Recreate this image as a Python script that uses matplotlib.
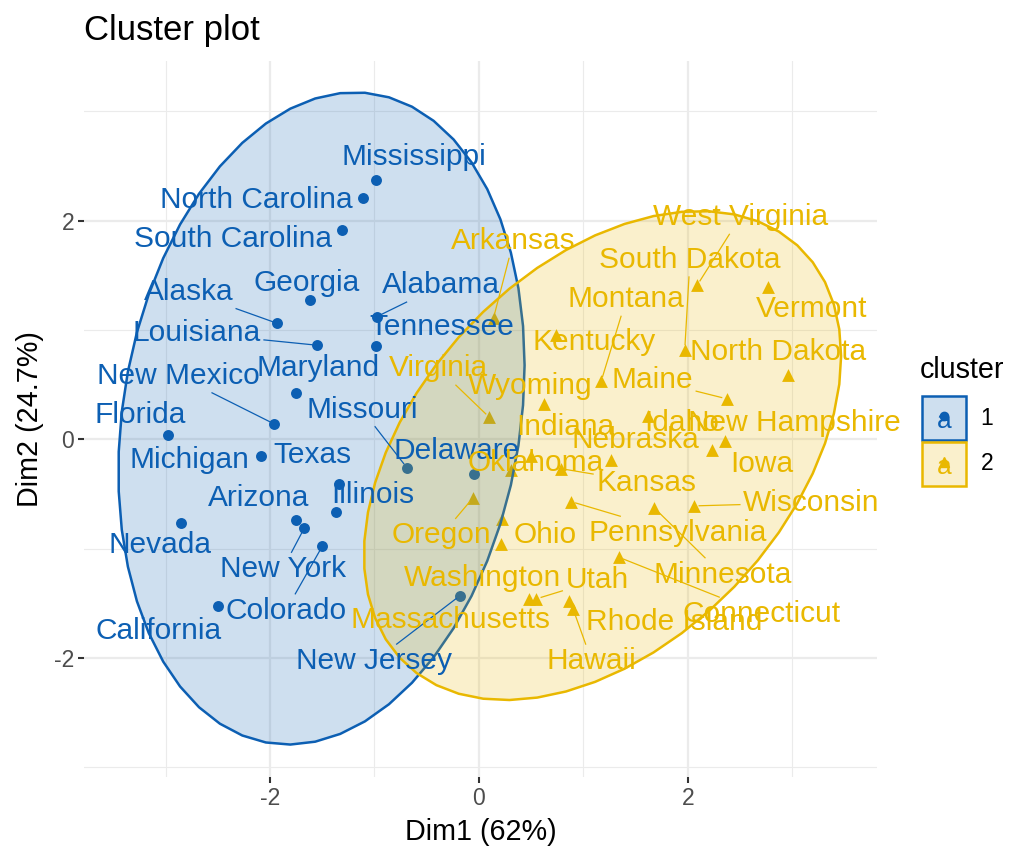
import numpy as np
import matplotlib.pyplot as plt
from matplotlib.patches import Polygon, Rectangle
from matplotlib.lines import Line2D

plt.rcParams['font.family'] = ['Liberation Sans', 'DejaVu Sans']
plt.rcParams['axes.unicode_minus'] = False

# cluster 1 (PCA coordinates)
states_c1 = ['Alabama', 'Alaska', 'Arizona', 'California', 'Colorado', 'Delaware',
             'Florida', 'Georgia', 'Illinois', 'Louisiana', 'Maryland', 'Michigan',
             'Mississippi', 'Missouri', 'Nevada', 'New Jersey', 'New Mexico',
             'New York', 'North Carolina', 'South Carolina', 'Tennessee', 'Texas']
dim1_c1 = [-0.98, -1.93, -1.75, -2.50, -1.50, -0.05, -2.98, -1.62, -1.37, -1.55, -1.75,
           -2.09, -0.99, -0.69, -2.85, -0.18, -1.96, -1.67, -1.11, -1.31, -0.99, -1.34]
dim2_c1 = [1.12, 1.06, -0.74, -1.53, -0.98, -0.32, 0.04, 1.27, -0.67, 0.86, 0.42,
           -0.15, 2.37, -0.26, -0.77, -1.43, 0.14, -0.81, 2.21, 1.91, 0.85, -0.41]

# cluster 2
states_c2 = ['Arkansas', 'Connecticut', 'Hawaii', 'Idaho', 'Indiana', 'Iowa', 'Kansas',
             'Kentucky', 'Maine', 'Massachusetts', 'Minnesota', 'Montana', 'Nebraska',
             'New Hampshire', 'North Dakota', 'Ohio', 'Oklahoma', 'Oregon',
             'Pennsylvania', 'Rhode Island', 'South Dakota', 'Utah', 'Vermont',
             'Virginia', 'Washington', 'West Virginia', 'Wisconsin', 'Wyoming']
dim1_c2 = [0.14, 1.34, 0.90, 1.62, 0.50, 2.23, 0.79, 0.74, 2.37, 0.48, 1.68, 1.17, 1.26,
           2.36, 2.96, 0.22, 0.31, -0.06, 0.88, 0.86, 1.97, 0.55, 2.77, 0.10, 0.21,
           2.09, 2.06, 0.62]
dim2_c2 = [1.11, -1.08, -1.55, 0.21, -0.15, -0.10, -0.27, 0.95, 0.37, -1.46, -0.63, 0.53,
           -0.19, -0.02, 0.59, -0.73, -0.28, -0.54, -0.57, -1.48, 0.82, -1.46, 1.39,
           0.20, -0.96, 1.41, -0.61, 0.32]

# where the repelled labels ended up (label centres)
label_pos = {
    'Mississippi': (-0.62, 2.58), 'North Carolina': (-2.13, 2.19),
    'South Carolina': (-2.35, 1.83), 'Georgia': (-1.65, 1.43), 'Alabama': (-0.36, 1.41),
    'Alaska': (-2.78, 1.35), 'Louisiana': (-2.70, 0.97), 'Tennessee': (-0.36, 1.03),
    'New Mexico': (-2.88, 0.58), 'Maryland': (-1.54, 0.65), 'Missouri': (-1.12, 0.27),
    'Florida': (-3.24, 0.22), 'Delaware': (-0.21, -0.11), 'Michigan': (-2.77, -0.19),
    'Texas': (-1.59, -0.14), 'Illinois': (-1.02, -0.51), 'Arizona': (-2.11, -0.54),
    'Nevada': (-3.05, -0.97), 'New York': (-1.88, -1.19), 'Colorado': (-1.85, -1.57),
    'California': (-3.07, -1.75), 'New Jersey': (-1.00, -2.03),
    'West Virginia': (2.50, 2.03), 'Arkansas': (0.33, 1.81), 'South Dakota': (2.02, 1.64),
    'Montana': (1.41, 1.28), 'Vermont': (3.18, 1.19), 'Kentucky': (1.10, 0.89),
    'North Dakota': (2.86, 0.80), 'Virginia': (-0.39, 0.65), 'Wyoming': (0.49, 0.49),
    'Maine': (1.66, 0.54), 'Indiana': (0.83, 0.11), 'Idaho': (1.94, 0.15),
    'New Hampshire': (3.02, 0.15), 'Nebraska': (1.50, -0.01), 'Iowa': (2.71, -0.23),
    'Kansas': (1.60, -0.40), 'Oklahoma': (0.54, -0.22), 'Wisconsin': (3.18, -0.58),
    'Oregon': (-0.36, -0.88), 'Ohio': (0.63, -0.88), 'Pennsylvania': (1.90, -0.86),
    'Minnesota': (2.33, -1.24), 'Washington': (0.03, -1.27), 'Utah': (1.13, -1.29),
    'Connecticut': (2.71, -1.60), 'Massachusetts': (-0.27, -1.65),
    'Rhode Island': (1.87, -1.67), 'Hawaii': (1.08, -2.03),
}

blue = '#0C5FB3'
yellow = '#E9B800'


def norm_ellipse(x, y, radius, n=52):
    # same as ggplot2 stat_ellipse(type = "norm")
    x = np.asarray(x)
    y = np.asarray(y)
    cov = np.cov(x, y)
    chol = np.linalg.cholesky(cov).T
    t = np.linspace(0, 2 * np.pi, n)
    unit = np.column_stack([np.cos(t), np.sin(t)])
    return np.array([x.mean(), y.mean()]) + radius * unit @ chol


# sqrt(2 * qf(0.95, 2, n - 1))
r1 = np.sqrt(2 * 3.4668)
r2 = np.sqrt(2 * 3.3541)

fig = plt.figure(figsize=(10.36, 8.64), dpi=100)
ax = fig.add_axes([0.0811, 0.1007, 0.8465 - 0.0811, 0.9294 - 0.1007])

ax.scatter(dim1_c1, dim2_c1, s=62, marker='o', color=blue, zorder=2, linewidths=0)
ax.scatter(dim1_c2, dim2_c2, s=85, marker='^', color=yellow, zorder=2, linewidths=0)

ell1 = norm_ellipse(dim1_c1, dim2_c1, r1)
ell2 = norm_ellipse(dim1_c2, dim2_c2, r2)
ax.add_patch(Polygon(ell1, closed=True, facecolor=blue, alpha=0.2, edgecolor='none', zorder=3))
ax.add_patch(Polygon(ell1, closed=True, facecolor='none', edgecolor=blue, lw=1.8, zorder=3))
ax.add_patch(Polygon(ell2, closed=True, facecolor=yellow, alpha=0.2, edgecolor='none', zorder=3.1))
ax.add_patch(Polygon(ell2, closed=True, facecolor='none', edgecolor=yellow, lw=1.8, zorder=3.1))

texts = []
for names, xs, ys, col in [(states_c1, dim1_c1, dim2_c1, blue),
                           (states_c2, dim1_c2, dim2_c2, yellow)]:
    for name, px, py in zip(names, xs, ys):
        lx, ly = label_pos[name]
        t = ax.text(lx, ly, name, color=col, fontsize=21.5, ha='center', va='center', zorder=5)
        texts.append((t, px, py, col))

ax.set_xlim(-3.78, 3.81)
ax.set_ylim(-3.09, 3.46)
ax.set_xticks([-2, 0, 2])
ax.set_yticks([-2, 0, 2])
ax.set_xticks([-3, -1, 1, 3], minor=True)
ax.set_yticks([-3, -1, 1, 3], minor=True)
ax.grid(which='major', color='#EBEBEB', lw=1.6, zorder=0)
ax.grid(which='minor', color='#EBEBEB', lw=0.8, zorder=0)
ax.set_axisbelow(True)
for s in ax.spines.values():
    s.set_visible(False)
ax.tick_params(which='major', labelsize=16.5, labelcolor='#4D4D4D', color='#333333',
               length=4, width=1.5, pad=3)
ax.tick_params(which='minor', length=0)

# repel segments: along the line label centre -> point, starting at the padded label box
fig.canvas.draw()
renderer = fig.canvas.get_renderer()
inv = ax.transData.inverted()
for t, px, py, col in texts:
    bb = t.get_window_extent(renderer)
    dx, dy = ax.transData.transform((px, py))
    mx, my = (bb.x0 + bb.x1) / 2, (bb.y0 + bb.y1) / 2
    vx, vy = dx - mx, dy - my
    hw, hh = (bb.x1 - bb.x0) / 2 + 3, (bb.y1 - bb.y0) / 2 + 3
    s = min(hw / abs(vx) if vx else np.inf, hh / abs(vy) if vy else np.inf)
    if s >= 1:
        continue
    sx, sy = mx + vx * s, my + vy * s
    dist = np.hypot(dx - sx, dy - sy)
    if dist > 20:
        ux, uy = (dx - sx) / dist, (dy - sy) / dist
        ex, ey = dx - ux * 5, dy - uy * 5
        p0 = inv.transform((sx, sy))
        p1 = inv.transform((ex, ey))
        ax.add_line(Line2D([p0[0], p1[0]], [p0[1], p1[1]], color=col, lw=0.9, zorder=4))

fig.text(84 / 1036, 1 - 40 / 864, 'Cluster plot', fontsize=25, ha='left', va='baseline')
fig.text(480.5 / 1036, 1 - 832 / 864, 'Dim1 (62%)', fontsize=20.7, ha='center', va='center')
fig.text(30 / 1036, 1 - 419 / 864, 'Dim2 (24.7%)', fontsize=20.7, ha='center', va='center',
         rotation=90)

# legend drawn by hand (ggplot style key)
fig.text(920 / 1036, 1 - 370 / 864, 'cluster', fontsize=20.7, ha='left', va='center')
for i, (col, mk, lab) in enumerate([(blue, 'o', '1'), (yellow, '^', '2')]):
    top = 396 + i * 46
    x0, y0 = 922 / 1036, 1 - (top + 44) / 864
    w, h = 44 / 1036, 44 / 864
    fig.add_artist(Rectangle((x0, y0), w, h, transform=fig.transFigure, facecolor=col,
                             alpha=0.2, edgecolor='none'))
    fig.add_artist(Rectangle((x0, y0), w, h, transform=fig.transFigure, facecolor='none',
                             edgecolor=col, lw=1.8))
    cx, cy = x0 + w / 2, y0 + h / 2
    fig.text(cx, cy - 0.004, 'a', color=col, fontsize=19, ha='center', va='center')
    fig.add_artist(Line2D([cx], [cy + 0.002], marker=mk, color=col, markersize=6 if mk == 'o' else 7,
                          transform=fig.transFigure, linestyle='none'))
    fig.text(987 / 1036, cy, lab, fontsize=16.5, ha='center', va='center')

fig.savefig('out.png', dpi=100)
